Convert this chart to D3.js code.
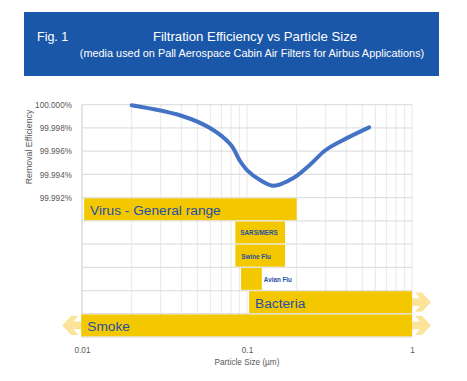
<!DOCTYPE html>
<html><head><meta charset="utf-8">
<script src="https://cdn.jsdelivr.net/npm/d3@7"></script>
<style>body{margin:0;background:#fff;}svg{display:block;font-family:"Liberation Sans",Arial,sans-serif;}</style>
</head><body><svg id="c" width="467" height="381"></svg>
<script>
// ---- data ----
const curveSize = [0.02, 0.04, 0.06, 0.08, 0.09, 0.1, 0.12, 0.145, 0.19, 0.24, 0.3, 0.4, 0.55];
const curveEff  = [99.99995, 99.99905, 99.99797, 99.99653, 99.99523, 99.99437, 99.99351, 99.99302, 99.99366, 99.9948, 99.9961, 99.9971, 99.99805];
const categories = ["Virus - General range", "SARS/MERS", "Swine Flu", "Avian Flu", "Bacteria", "Smoke"];
const rowTop   = [99.992, 99.990, 99.988, 99.986, 99.984, 99.982];
const sizeMin  = [0.0103, 0.085, 0.085, 0.092, 0.103, 0.0099];
const sizeMax  = [0.2, 0.17, 0.17, 0.123, 1, 1];
const arrowLeft  = [false, false, false, false, false, true];
const arrowRight = [false, false, false, false, true, true];
const yGrid = [99.980, 99.982, 99.984, 99.986, 99.988, 99.990, 99.992, 99.994, 99.996, 99.998, 100.000];
const yTickVals = [100.000, 99.998, 99.996, 99.994, 99.992];
const yTickLabels = ["100.000%", "99.998%", "99.996%", "99.994%", "99.992%"];
const xTickVals = [0.01, 0.1, 1];
const xTickLabels = ["0.01", "0.1", "1"];

const svg = d3.select("#c");
// banner
svg.append("rect").attr("x",24).attr("y",12).attr("width",415).attr("height",64).attr("fill","#1b57a8");
svg.append("text").attr("x",37).attr("y",41).attr("fill","#fff").attr("font-size",12.5).text("Fig. 1");
svg.append("text").attr("x",255).attr("y",41).attr("fill","#fff").attr("font-size",13.2).attr("text-anchor","middle").text("Filtration Efficiency vs Particle Size");
svg.append("text").attr("x",252).attr("y",57).attr("fill","#fff").attr("font-size",10.9).attr("text-anchor","middle").text("(media used on Pall Aerospace Cabin Air Filters for Airbus Applications)");

const x = d3.scaleLog().domain([0.01, 1]).range([82, 412]);
const y = d3.scaleLinear().domain([99.980, 100.000]).range([337, 104.7]);

// vertical grid (minor log ticks)
const vGrid = [];
[0.01, 0.1].forEach(d => { for (let k = 1; k <= 9; k++) vGrid.push(d * k); });
vGrid.push(1);
svg.append("g").selectAll("line").data(vGrid).join("line")
  .attr("x1", d => x(d)).attr("x2", d => x(d)).attr("y1", y(100)).attr("y2", y(99.980))
  .attr("stroke", "#ebebeb").attr("stroke-width", 1.2);
svg.append("g").selectAll("line").data(yGrid).join("line")
  .attr("x1", x(0.01)).attr("x2", x(1)).attr("y1", d => y(d)).attr("y2", d => y(d))
  .attr("stroke", "#e0e0e0").attr("stroke-width", 1.3);
svg.append("line").attr("x1", x(0.01)).attr("x2", x(0.01)).attr("y1", y(100)).attr("y2", y(99.980)).attr("stroke","#d6d6d6");

// y axis
const yAxis = d3.axisLeft(y).tickValues(yTickVals).tickSize(0).tickPadding(10)
  .tickFormat((d, i) => yTickLabels[i]);
const ga = svg.append("g").attr("transform", "translate(" + x(0.01) + ",0)").call(yAxis);
ga.select(".domain").remove();
ga.selectAll("text").attr("font-size", 8.2).attr("fill", "#595959").attr("font-family", "Liberation Sans, Arial, sans-serif");
svg.append("text").attr("transform","translate(32,147) rotate(-90)").attr("text-anchor","middle")
  .attr("font-size",8.8).attr("fill","#595959").text("Removal Efficiency");

// x axis
const xAxis = d3.axisBottom(x).tickValues(xTickVals).tickSize(0).tickPadding(10)
  .tickFormat((d, i) => xTickLabels[i]);
const gx = svg.append("g").attr("transform", "translate(0," + y(99.980) + ")").call(xAxis);
gx.select(".domain").remove();
gx.selectAll("text").attr("font-size", 8.2).attr("fill", "#595959").attr("font-family", "Liberation Sans, Arial, sans-serif");
svg.append("text").attr("x", x(0.1)).attr("y", 365).attr("text-anchor","middle")
  .attr("font-size",8.2).attr("fill","#595959").text("Particle Size (µm)");

// arrows
const arrowColor = "#fbe49a";
function arrowPath(x0, cy, h, dir) {
  const p = [[0,-0.2],[8,-0.2],[3,-0.5],[10,-0.5],[19,0],[10,0.5],[3,0.5],[8,0.2],[0,0.2]];
  return "M" + p.map(q => [x0 + dir*q[0], cy + q[1]*h].join(",")).join("L") + "Z";
}
const rows = categories.map((c, i) => ({c, i, top: rowTop[i], lo: sizeMin[i], hi: sizeMax[i]}));
const bandH = y(99.992) - y(99.994);
rows.forEach(r => {
  const cy = y(r.top) + bandH / 2;
  if (arrowRight[r.i]) svg.append("path").attr("d", arrowPath(x(r.hi), cy, bandH - 4, 1)).attr("fill", arrowColor);
  if (arrowLeft[r.i]) svg.append("path").attr("d", arrowPath(x(r.lo), cy, bandH - 4, -1)).attr("fill", arrowColor);
});

// bars
svg.append("g").selectAll("rect").data(rows).join("rect")
  .attr("x", d => x(d.lo)).attr("width", d => x(d.hi) - x(d.lo))
  .attr("y", d => y(d.top) + 0.7).attr("height", bandH - 1.4)
  .attr("fill", "#f4c800");

// labels
const labelColor = "#1f4fa3";
const big = [0, 4, 5];
rows.forEach(r => {
  const cy = y(r.top) + bandH / 2;
  const isBig = big.includes(r.i);
  const t = svg.append("text").attr("fill", labelColor).attr("dominant-baseline", "central").attr("y", cy + (isBig ? 1 : 0.5)).text(r.c);
  if (isBig) {
    t.attr("x", x(r.lo) + 6).attr("font-size", 13.7);
  } else if (r.i === 3) {
    t.attr("x", x(r.hi) + 2).attr("font-size", 6.3).attr("font-weight", "bold");
  } else {
    t.attr("x", x(r.lo) + 5 - (r.i === 1 ? 0 : -1)).attr("font-size", 6.3).attr("font-weight", "bold");
  }
});

// efficiency curve
const pts = curveSize.map((s, i) => [x(s), y(curveEff[i])]);
svg.append("path").attr("d", d3.line().curve(d3.curveCatmullRom.alpha(0.5))(pts))
  .attr("fill", "none").attr("stroke", "#4472c4").attr("stroke-width", 4).attr("stroke-linecap", "round");
</script></body></html>
